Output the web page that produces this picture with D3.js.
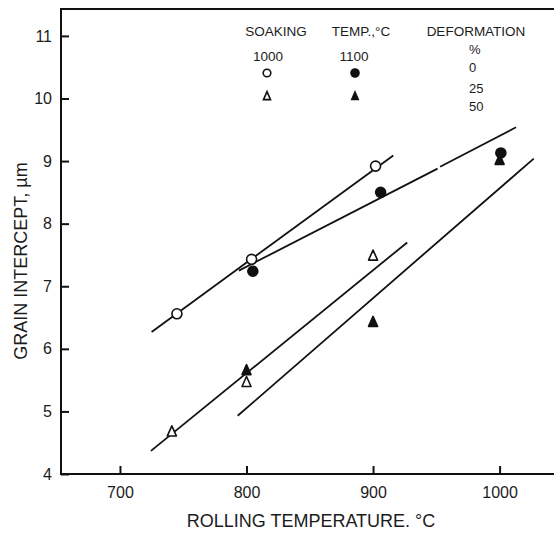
<!DOCTYPE html>
<html>
<head>
<meta charset="utf-8">
<script src="https://cdnjs.cloudflare.com/ajax/libs/d3/7.8.5/d3.min.js"></script>
<style>
body { margin: 0; background: #fff; }
text { font-family: "Liberation Sans", Arial, sans-serif; fill: #1c1c1c; }
</style>
</head>
<body>
<svg id="chart" width="554" height="534"></svg>
<script>
// rolling temperature (C), grain intercept (um)
var openCircles = [[745, 6.56], [804, 7.43], [902, 8.92]];
var filledCircles = [[805, 7.24], [906, 8.50], [1001, 9.13]];
var openTriangles = [[741, 4.68], [800, 5.47], [900, 7.49]];
var filledTriangles = [[800, 5.66], [900, 6.43], [1000, 9.02]];

// hand drawn fit lines (the filled circle one has a small break)
var fitOpenCircle = [[725, 6.27], [916, 9.09]];
var fitFilledCircleA = [[794, 7.25], [951, 8.88]];
var fitFilledCircleB = [[953, 8.91], [1013, 9.54]];
var fitOpenTriangle = [[724.5, 4.37], [927, 7.70]];
var fitFilledTriangle = [[793, 4.93], [1027, 9.04]];

var xTicks = [700, 800, 900, 1000];
var yTicks = [4, 5, 6, 7, 8, 9, 10, 11];

var legendHeads = ["SOAKING", "TEMP.,\u00b0C", "DEFORMATION"];
var soakTemps = ["1000", "1100"];
var deformLabels = ["%", "0", "25", "50"];

var svg = d3.select("#chart");
// note: "top" is taken by window.top, so use plot* names
var plotL = 61, plotR = 554, plotT = 9, plotB = 474;

var x = d3.scaleLinear().domain([653.4, 1043]).range([plotL, plotR]);
var y = d3.scaleLinear().domain([4, 11.43]).range([plotB, plotT]);

// frame: left, top, bottom (no right side)
svg.append("path")
	.attr("d", "M" + plotR + "," + plotT + "H" + plotL + "V" + plotB + "H" + plotR)
	.attr("fill", "none")
	.style("stroke", "#111")
	.style("stroke-width", 2);

var xAxis = d3.axisBottom(x).tickValues(xTicks).tickSize(-8).tickPadding(13)
	.tickFormat(d3.format("d"));
svg.append("g")
	.attr("transform", "translate(0," + plotB + ")")
	.call(xAxis)
	.call(function(g){ g.select(".domain").remove(); })
	.call(function(g){
		g.selectAll("line").style("stroke", "#111").style("stroke-width", 2);
		g.selectAll("text").style("font-size", "16px").attr("fill", "#1c1c1c");
	});

var yAxis = d3.axisLeft(y).tickValues(yTicks).tickSize(-8).tickPadding(9)
	.tickFormat(d3.format("d"));
svg.append("g")
	.attr("transform", "translate(" + plotL + ",0)")
	.call(yAxis)
	.call(function(g){ g.select(".domain").remove(); })
	.call(function(g){
		g.selectAll("line").style("stroke", "#111").style("stroke-width", 2);
		g.selectAll("text").style("font-size", "16px").attr("fill", "#1c1c1c");
	});

// axis titles
svg.append("text")
	.attr("x", 311).attr("y", 527)
	.attr("text-anchor", "middle")
	.style("font-size", "18px")
	.text("ROLLING TEMPERATURE. \u00b0C");

svg.append("text")
	.attr("transform", "translate(27,261) rotate(-90)")
	.attr("text-anchor", "middle")
	.style("font-size", "18px")
	.text("GRAIN INTERCEPT, \u00b5m");

// fit lines
var line = d3.line()
	.x(function(d){ return x(d[0]); })
	.y(function(d){ return y(d[1]); });

var fits = [fitOpenCircle, fitFilledCircleA, fitFilledCircleB, fitOpenTriangle, fitFilledTriangle];
svg.append("g").selectAll("path").data(fits).enter().append("path")
	.attr("d", line)
	.attr("fill", "none")
	.style("stroke", "#111")
	.style("stroke-width", 1.8);

function triPath(w, h) {
	// centred triangle, apex up
	return "M0," + (-h * 0.55) + "L" + (w / 2) + "," + (h * 0.45) + "L" + (-w / 2) + "," + (h * 0.45) + "Z";
}

function drawCircles(data, filled, r) {
	svg.append("g").selectAll("circle").data(data).enter().append("circle")
		.attr("cx", function(d){ return x(d[0]); })
		.attr("cy", function(d){ return y(d[1]); })
		.attr("r", r)
		.attr("fill", filled ? "#111" : "#fff")
		.style("stroke", "#111")
		.style("stroke-width", 1.6);
}

function drawTriangles(data, filled, w, h) {
	svg.append("g").selectAll("path").data(data).enter().append("path")
		.attr("d", triPath(w, h))
		.attr("transform", function(d){ return "translate(" + x(d[0]) + "," + y(d[1]) + ")"; })
		.attr("fill", filled ? "#111" : "#fff")
		.style("stroke", "#111")
		.style("stroke-width", 1.6)
		.style("stroke-linejoin", "round");
}

drawCircles(openCircles, false, 5);
drawTriangles(openTriangles, false, 9, 10);
drawTriangles(filledTriangles, true, 9, 10);
drawCircles(filledCircles, true, 5);

// legend
var headX = [276, 361, 476];
svg.append("g").selectAll("text").data(legendHeads).enter().append("text")
	.attr("x", function(d,i){ return headX[i]; })
	.attr("y", 36)
	.attr("text-anchor", "middle")
	.style("font-size", "13.5px")
	.text(function(d){ return d; });

var soakX = [268, 354];
svg.append("g").selectAll("text").data(soakTemps).enter().append("text")
	.attr("x", function(d,i){ return soakX[i]; })
	.attr("y", 61)
	.attr("text-anchor", "middle")
	.style("font-size", "13.5px")
	.text(function(d){ return d; });

var deformY = [54, 72, 92.5, 111];
svg.append("g").selectAll("text").data(deformLabels).enter().append("text")
	.attr("x", 469)
	.attr("y", function(d,i){ return deformY[i]; })
	.style("font-size", "13px")
	.text(function(d){ return d; });

var lg = svg.append("g");
lg.append("circle").attr("cx", 267).attr("cy", 73).attr("r", 3.8)
	.attr("fill", "#fff").style("stroke", "#111").style("stroke-width", 1.6);
lg.append("circle").attr("cx", 355).attr("cy", 73).attr("r", 4.2)
	.attr("fill", "#111").style("stroke", "#111").style("stroke-width", 1.2);
lg.append("path").attr("d", triPath(7, 8)).attr("transform", "translate(267,96)")
	.attr("fill", "#fff").style("stroke", "#111").style("stroke-width", 1.6);
lg.append("path").attr("d", triPath(7, 8)).attr("transform", "translate(355,96)")
	.attr("fill", "#111").style("stroke", "#111").style("stroke-width", 1.2);
</script>
</body>
</html>
